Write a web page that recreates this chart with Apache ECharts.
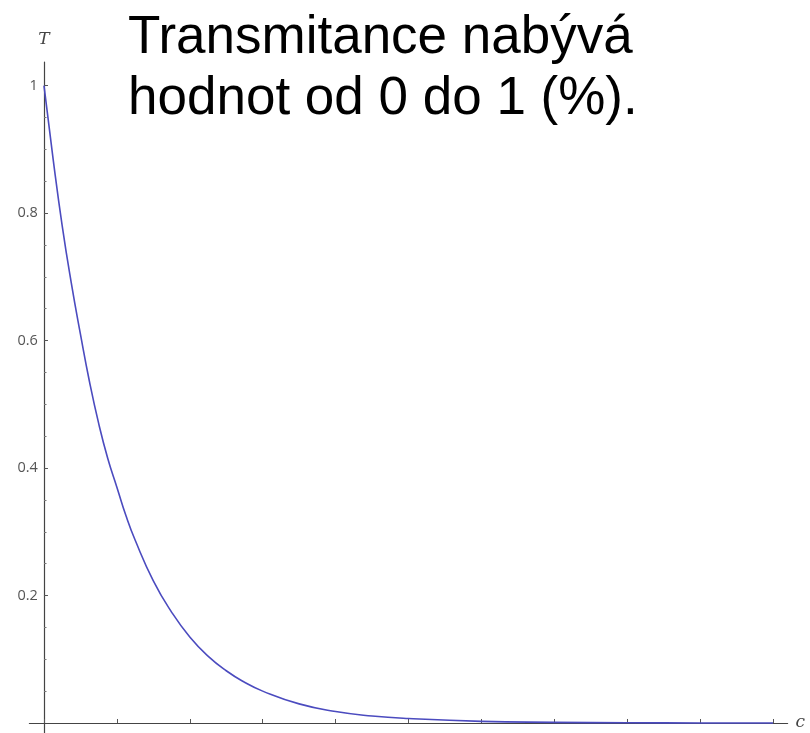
<!DOCTYPE html>
<html><head><meta charset="utf-8">
<script src="https://cdn.jsdelivr.net/npm/echarts@6/dist/echarts.min.js"></script>
<style>html,body{margin:0;padding:0;background:#fff}#c{width:810px;height:733px}</style>
</head><body><div id="c"></div>
<script>
// concentration c (tick units) and transmittance T
const cValues = [0, 0.125, 0.25, 0.375, 0.5, 0.625, 0.75, 0.875, 1, 1.125, 1.25, 1.5, 1.75, 2, 2.25, 2.5, 2.75, 3, 3.5, 4, 4.5, 5, 6, 7, 8, 9, 10];
const tValues = [1, 0.885, 0.78, 0.69, 0.61, 0.535, 0.47, 0.415, 0.37, 0.325, 0.287, 0.223, 0.174, 0.135, 0.105, 0.082, 0.064, 0.05, 0.03, 0.018, 0.011, 0.007, 0.0025, 0.001, 0.0003, 0.0001, 0];
const xTicks = [0, 1, 2, 3, 4, 5, 6, 7, 8, 9, 10];
const yMajorTicks = [0.2, 0.4, 0.6, 0.8, 1];
const yMinorTicks = [0.05, 0.1, 0.15, 0.25, 0.3, 0.35, 0.45, 0.5, 0.55, 0.65, 0.7, 0.75, 0.85, 0.9, 0.95];
const titleText = 'Transmitance nabývá\nhodnot od 0 do 1 (%).';

const chart = echarts.init(document.getElementById('c'), null, {renderer: 'canvas'});
const yMin = -0.0157, yMax = 1.037;
chart.setOption({
  animation: false,
  title: {
    text: titleText, left: 123, top: 3,
    textStyle: {fontFamily: 'Liberation Sans, Arial, sans-serif', fontSize: 53, fontWeight: 'normal', color: '#000', lineHeight: 61}
  },
  grid: {left: 29.4, right: 22.4, top: 62, bottom: 0, containLabel: false},
  xAxis: {
    type: 'value', min: -0.2, max: 10.2,
    name: 'c', nameLocation: 'end', nameGap: 8,
    nameTextStyle: {fontFamily: 'DejaVu Serif, serif', fontStyle: 'italic', fontSize: 17, color: '#444', verticalAlign: 'middle'},
    axisLine: {onZero: true, lineStyle: {color: '#444', width: 1.2}},
    axisTick: {show: true, inside: true, length: 4, customValues: xTicks, lineStyle: {color: '#555'}},
    axisLabel: {show: false},
    splitLine: {show: false}
  },
  yAxis: [{
    type: 'value', min: yMin, max: yMax,
    name: 'T', nameLocation: 'end', nameGap: 14,
    nameTextStyle: {fontFamily: 'DejaVu Serif, serif', fontStyle: 'italic', fontSize: 17, color: '#444', align: 'center'},
    axisLine: {onZero: true, lineStyle: {color: '#444', width: 1.2}},
    axisTick: {show: true, inside: true, length: 4, customValues: yMajorTicks, lineStyle: {color: '#555'}},
    axisLabel: {show: true, customValues: yMajorTicks, margin: -8.5, fontFamily: 'Open Sans, sans-serif', fontSize: 14.5, color: '#555',
      formatter: v => String(Math.round(v * 10) / 10)},
    splitLine: {show: false}
  }, {
    type: 'value', min: yMin, max: yMax, position: 'left', offset: -14.6,
    axisLine: {show: false, onZero: false},
    axisTick: {show: true, inside: true, length: 2.5, customValues: yMinorTicks, lineStyle: {color: '#777'}},
    axisLabel: {show: false},
    splitLine: {show: false}
  }],
  series: [{
    type: 'line', smooth: true, showSymbol: false, symbol: 'none',
    data: cValues.map((c, i) => [c, tValues[i]]),
    lineStyle: {color: '#4b4bbf', width: 1.6},
    clip: false
  }]
});
</script></body></html>
